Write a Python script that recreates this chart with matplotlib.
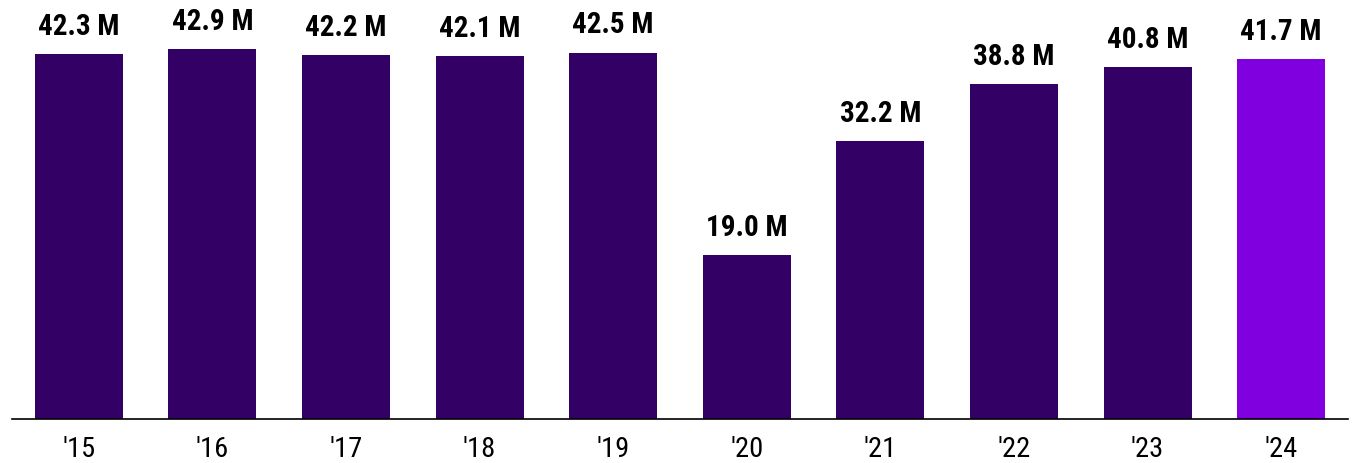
import matplotlib
matplotlib.use("Agg")
import matplotlib.pyplot as plt
from matplotlib import font_manager

years = ["'15", "'16", "'17", "'18", "'19", "'20", "'21", "'22", "'23", "'24"]
passengers = [42.3, 42.9, 42.2, 42.1, 42.5, 19.0, 32.2, 38.8, 40.8, 41.7]
colors = ["#330066"] * 9 + ["#8000E0"]

# prefer a condensed face if one is installed
names = {f.name for f in font_manager.fontManager.ttflist}
family = "Liberation Sans"
for cand in ["Liberation Sans Narrow", "Arial Narrow", "Roboto Condensed", "Open Sans Condensed"]:
    if cand in names:
        family = cand
        break
plt.rcParams["font.family"] = family

fig = plt.figure(figsize=(13.52, 4.63), dpi=100)
ax = fig.add_axes([12 / 1352, 44 / 463, 1336 / 1352, 419 / 463])

x = range(len(years))
bars = ax.bar(x, passengers, width=0.66, color=colors)

for b, v in zip(bars, passengers):
    ax.annotate(f"{v:.1f} M", (b.get_x() + b.get_width() / 2, v),
                xytext=(0, 14), textcoords="offset points",
                ha="center", va="baseline", fontsize=21, fontweight="bold")

ax.set_xlim(-0.5, 9.5)
ax.set_ylim(0, 48.6)
ax.set_xticks(list(x))
ax.set_xticklabels(years, fontsize=20.5)
ax.tick_params(axis="x", length=0, pad=12)
ax.set_yticks([])
for side in ["top", "right", "left"]:
    ax.spines[side].set_visible(False)
ax.spines["bottom"].set_linewidth(1.2)

fig.savefig("out.png", dpi=100)
